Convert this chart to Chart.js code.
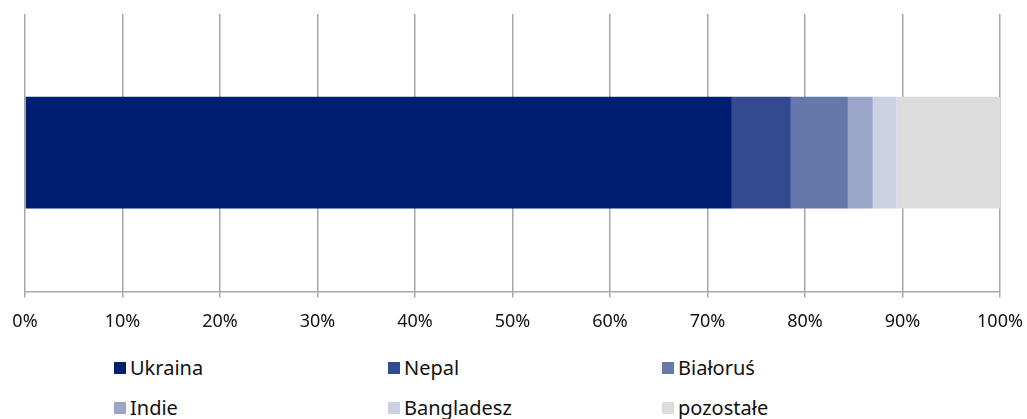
<!DOCTYPE html>
<html>
<head>
<meta charset="utf-8">
<script src="https://cdn.jsdelivr.net/npm/chart.js@4/dist/chart.umd.min.js"></script>
<style>
    body { margin: 0; background: #fff; font-family: 'Noto Sans', sans-serif; }
    #wrap { position: absolute; left: 0; top: 0; width: 1027px; height: 349px; }
    #legend { position: absolute; left: 114px; top: 355px; width: 900px; }
    .item { position: absolute; font-size: 20px; color: #111; white-space: nowrap; line-height: 26px; }
    .item span { display: inline-block; width: 12px; height: 12px; margin-right: 4px; vertical-align: 1px; }
</style>
</head>
<body>
<div id="wrap"><canvas id="share-chart"></canvas></div>
<div id="legend"></div>
<script>
const categories = ['Ukraina', 'Nepal', 'Białoruś', 'Indie', 'Bangladesz', 'pozostałe'];
const shares = [72.5, 6.05, 5.85, 2.55, 2.45, 10.6];
const colours = ['#001f73', '#334a91', '#6677ab', '#99a6c7', '#ccd2e3', '#dcdcdc'];
const tickValues = [0, 10, 20, 30, 40, 50, 60, 70, 80, 90, 100];

document.addEventListener('DOMContentLoaded', function () {
    let ctx = document.getElementById('share-chart').getContext('2d');
    let datasets = categories.map(function (name, i) {
        return {
            label: name,
            data: [shares[i]],
            backgroundColor: colours[i],
            borderWidth: 0,
            barPercentage: 0.403,
            categoryPercentage: 1,
        };
    });
    new Chart(ctx, {
        type: 'bar',
        data: { labels: [''], datasets: datasets },
        options: {
            indexAxis: 'y',
            responsive: true,
            maintainAspectRatio: false,
            animation: false,
            layout: { padding: { left: 25, right: 27, top: 14, bottom: 2 } },
            scales: {
                x: {
                    stacked: true,
                    min: 0,
                    max: 100,
                    afterBuildTicks: function (axis) {
                        axis.ticks = tickValues.map(v => ({ value: v }));
                    },
                    afterFit: function (axis) {
                        // let the layout padding decide the plot edges
                        axis.paddingLeft = 0;
                        axis.paddingRight = 0;
                    },
                    grid: { color: '#a6a6a6', lineWidth: 1.5, tickLength: 6 },
                    border: { color: '#a6a6a6', width: 1.5 },
                    ticks: {
                        color: '#111',
                        font: { family: 'Noto Sans', size: 18 },
                        padding: 14,
                        maxRotation: 0,
                        callback: v => v + '%',
                    },
                },
                y: { stacked: true, display: false },
            },
            plugins: { legend: { display: false }, tooltip: { enabled: false } },
        },
    });

    let legend = document.getElementById('legend');
    categories.forEach(function (name, i) {
        let el = document.createElement('div');
        el.className = 'item';
        el.style.left = (i % 3) * 274 + 'px';
        el.style.top = Math.floor(i / 3) * 40 + 'px';
        el.innerHTML = '<span style="background:' + colours[i] + '"></span>' + name;
        legend.appendChild(el);
    });
});
</script>
</body>
</html>
